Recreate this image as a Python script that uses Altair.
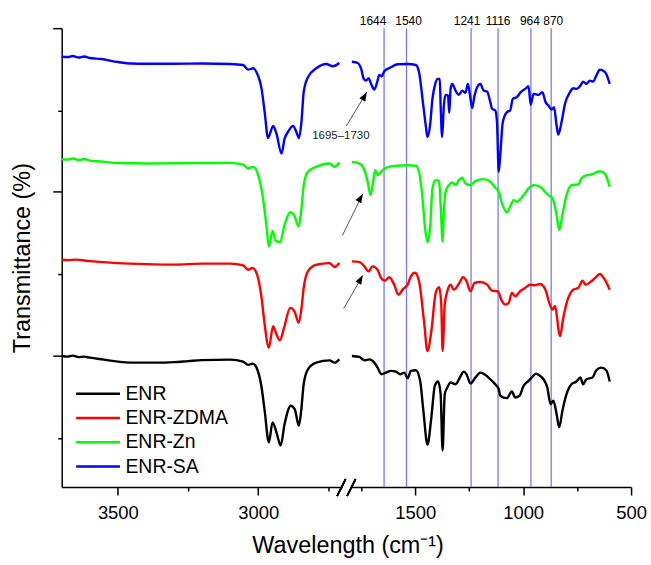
import altair as alt
import pandas as pd

FONT = "Liberation Sans"
SERIES = ["ENR", "ENR-ZDMA", "ENR-Zn", "ENR-SA"]
COLORS = ["#000000", "#ff0000", "#00ff00", "#0000ff"]

# ---------------- 3700-2700 cm-1 segment ----------------
enr_hi_wn = [3700, 3680, 3660, 3640, 3620, 3600, 3550, 3500, 3450, 3400, 3350, 3300, 3250, 3200, 3100,
             3054, 3036, 3020, 3006, 2988, 2977, 2962, 2949, 2935, 2920, 2906, 2884, 2870, 2855, 2847,
             2838, 2823, 2793, 2746, 2728, 2711]
enr_hi_t = [131.7, 131, 132, 130.5, 131, 130, 128, 126, 125, 125, 125, 125.5, 126.5, 127.5, 128,
            126, 122.7, 124, 120, 100, 76.7, 45, 65, 55, 41.7, 63.3, 81.7, 78.3, 61.7, 76.7,
            103.3, 118.3, 125, 127.3, 125, 128.3]

zdma_hi_wn = [3700, 3680, 3650, 3600, 3500, 3400, 3300, 3200, 3100, 3054, 3036, 3020, 3004, 2988, 2977,
              2962, 2947, 2935, 2923, 2908, 2886, 2870, 2856, 2847, 2838, 2823, 2793, 2746, 2728, 2711]
zdma_hi_t = [228.3, 228, 228.5, 227, 225, 224, 223.5, 224.5, 224.5, 222.7, 218.3, 220, 213.3, 190, 163.3,
             140, 161.7, 153.3, 147.3, 160, 180, 176, 165, 176.7, 200, 216.7, 223.3, 225, 221, 225]

zn_hi_wn = [3700, 3680, 3660, 3640, 3620, 3600, 3560, 3500, 3400, 3300, 3200, 3100, 3054, 3036, 3018,
            3000, 2983, 2971, 2962, 2949, 2938, 2923, 2906, 2886, 2870, 2856, 2847, 2838, 2823, 2793,
            2746, 2728, 2711]
zn_hi_t = [329.3, 329, 330, 328.5, 329.5, 328, 327, 325.5, 325, 325.3, 325.5, 325.7, 324, 320, 321.7,
           313.3, 290, 263.3, 241.7, 257.3, 247.3, 246, 263.3, 276, 271.7, 261.7, 276.7, 303.3, 316.7, 321.7,
           325, 321.7, 326]

sa_hi_wn = [3700, 3680, 3660, 3640, 3620, 3600, 3560, 3500, 3450, 3400, 3300, 3200, 3100, 3054, 3036,
            3018, 3006, 2988, 2977, 2965, 2947, 2935, 2917, 2906, 2894, 2876, 2864, 2855, 2846, 2838,
            2823, 2793, 2758, 2734, 2711]
sa_hi_t = [432.3, 432, 433, 431.5, 432.5, 431, 430, 427, 425.5, 425.3, 425.3, 425.5, 425, 424, 419.3,
           420.7, 416.7, 400, 376.7, 350.7, 362.7, 355, 335, 350, 356.7, 362.7, 356.7, 350.7, 366.7, 396.7,
           411.7, 420.7, 425, 422.7, 426]

# ---------------- 1800-500 cm-1 segment ----------------
enr_lo_wn = [1793, 1758, 1735, 1712, 1689, 1674, 1655, 1635, 1612, 1589, 1569, 1550, 1535, 1520, 1497,
             1477, 1462, 1443, 1425, 1409, 1394, 1382, 1373, 1363, 1351, 1336, 1313, 1293, 1275, 1262,
             1244, 1221, 1198, 1175, 1152, 1129, 1113, 1106, 1075, 1052, 1037, 1017, 998, 975, 960,
             940, 922, 906, 888, 873, 860, 845, 833, 818, 799, 776, 753, 735, 722, 707,
             679, 661, 638, 615, 599]
enr_lo_t = [131.7, 130.7, 127.3, 128.3, 125, 120, 113.3, 115, 116.7, 116, 113.3, 115, 109.3, 116.7, 117.3,
            106.7, 76.7, 42.7, 70, 101.7, 106, 93.3, 36.7, 93.3, 100, 105, 103.3, 110, 116, 113.3,
            104, 110, 115, 112.7, 108.3, 103.3, 98.3, 91.7, 89.3, 96, 90, 91.7, 101.7, 106.7, 110,
            114, 111.7, 108.3, 100, 83.3, 86.7, 73.3, 60, 76.7, 93.3, 103.3, 106, 110, 103.3, 108.3,
            110, 117.3, 120, 117.3, 106]

zdma_lo_wn = [1793, 1758, 1735, 1716, 1697, 1674, 1658, 1640, 1620, 1597, 1578, 1554, 1535, 1520, 1501,
              1482, 1459, 1443, 1425, 1405, 1389, 1379, 1373, 1363, 1351, 1336, 1321, 1298, 1278, 1262,
              1244, 1225, 1198, 1167, 1144, 1118, 1098, 1083, 1067, 1052, 1037, 1014, 991, 968, 945,
              922, 899, 876, 864, 853, 829, 814, 796, 768, 745, 725, 710, 684, 664, 645,
              622, 599]
zdma_lo_t = [226.7, 226, 221.7, 216.7, 221.7, 218.3, 210, 207.3, 210.7, 203.3, 193.3, 199.3, 203.3, 211.7, 215.3,
             206.7, 166.7, 136.7, 156.7, 195, 200.7, 183.3, 136.7, 183.3, 196.7, 203.3, 198.3, 204, 210.7, 206.7,
             196.7, 205, 206, 203.3, 197.3, 196.7, 186.7, 183.3, 185, 195, 191.7, 196.7, 200, 203.3, 202.7,
             204, 199.3, 183.3, 178.3, 181.7, 151.7, 170, 186.7, 198.3, 200, 207.3, 203.3, 206.7, 210.7, 214,
             208.3, 198.3]

zn_lo_wn = [1793, 1758, 1735, 1720, 1707, 1697, 1685, 1674, 1658, 1635, 1597, 1535, 1497, 1482, 1466,
            1454, 1443, 1431, 1420, 1405, 1389, 1382, 1373, 1367, 1359, 1344, 1328, 1313, 1298, 1282,
            1267, 1244, 1221, 1183, 1152, 1129, 1113, 1098, 1075, 1060, 1044, 1029, 998, 975, 952,
            922, 899, 883, 864, 845, 833, 818, 799, 776, 745, 730, 715, 684, 645, 622,
            599]
zn_lo_t = [326.7, 325, 318.3, 306.7, 293.3, 303.3, 318.3, 313.3, 316.7, 320.7, 322.7, 323.3, 322.7, 316.7, 290,
           260, 246, 260, 300, 308.3, 307.3, 283.3, 246.7, 276.7, 296.7, 303.3, 306, 303.3, 308.3, 310.7,
           305, 303.3, 307.3, 309.3, 306.7, 300.7, 296.7, 285, 276, 281.7, 288.3, 286.7, 293.3, 300, 303.3,
           301.7, 296.7, 293.3, 290, 273.3, 258.3, 273.3, 293.3, 303.3, 304, 310, 312.7, 314, 317.3, 315,
           301.7]

sa_lo_wn = [1793, 1766, 1750, 1738, 1727, 1716, 1704, 1689, 1676, 1666, 1655, 1643, 1612, 1581, 1535,
            1497, 1482, 1466, 1451, 1443, 1431, 1420, 1409, 1397, 1386, 1382, 1375, 1367, 1359, 1348,
            1342, 1336, 1328, 1313, 1298, 1282, 1267, 1256, 1247, 1236, 1225, 1213, 1198, 1183, 1167,
            1152, 1144, 1129, 1121, 1113, 1106, 1094, 1075, 1060, 1048, 1029, 1011, 990, 975, 965,
            952, 929, 911, 896, 883, 868, 857, 845, 837, 822, 806, 783, 768, 753, 735,
            722, 707, 691, 676, 661, 645, 630, 615, 599]
sa_lo_t = [427.3, 426, 420, 410, 408.3, 410.7, 405, 399.3, 406.7, 414, 412.7, 417.7, 421.7, 424.7, 425,
           424, 416.7, 390, 363.3, 351.7, 363.3, 390, 403.3, 410, 410, 383.3, 351.7, 383.3, 394, 393.3,
           376, 400, 405, 398.3, 394, 398.3, 396, 405, 395, 380.7, 393.3, 401.7, 405, 398.3, 397.3,
           386.7, 380, 378.3, 366.7, 316.7, 333.3, 366.7, 376.7, 378.3, 390, 391.7, 396.7, 400, 402.7, 384,
           395, 394, 396.7, 386.7, 383.3, 379.3, 381.7, 363.3, 354, 366.7, 385, 396.7, 400.7, 400, 403.3,
           407.3, 405, 408.3, 407.3, 413.3, 419.3, 418.3, 415, 405]

# marked bands
peak_wn = [1644, 1540, 1241, 1116, 964, 870]
# arrows to the 1695-1730 region (ENR-SA, ENR-Zn, ENR-ZDMA)
arrow_tail_wn = [1819, 1837, 1831]
arrow_tail_t = [362.7, 252.7, 179.3]
arrow_head_wn = [1724, 1742.5, 1742.5]
arrow_head_t = [396.7, 294.5, 212.7]
note_text = "1695\u20131730"
note_wn = [1844]
note_t = [352.3]

x_hi_ticks = [3500, 3250, 3000, 2750]
x_lo_ticks = [1750, 1500, 1250, 1000, 750, 500]
y_ticks = [49.3, 131.7, 214.0, 296.6, 378.3, 461.0]
y_major = [131.7, 296.6, 461.0]

# ---------------- build tables ----------------
def long_table(wn_lists, t_lists):
    rows = []
    for name, wns, ts in zip(SERIES, wn_lists, t_lists):
        for w, t in zip(wns, ts):
            rows.append({"series": name, "wn": w, "t": t})
    return pd.DataFrame(rows)

df_hi = long_table([enr_hi_wn, zdma_hi_wn, zn_hi_wn, sa_hi_wn], [enr_hi_t, zdma_hi_t, zn_hi_t, sa_hi_t])
df_lo = long_table([enr_lo_wn, zdma_lo_wn, zn_lo_wn, sa_lo_wn], [enr_lo_t, zdma_lo_t, zn_lo_t, sa_lo_t])
df_peaks = pd.DataFrame({"wn": peak_wn, "label": [str(w) for w in peak_wn]})
df_arrows = pd.DataFrame({"wn": arrow_tail_wn, "t": arrow_tail_t, "wn2": arrow_head_wn, "t2": arrow_head_t})
df_heads = pd.DataFrame({"wn": arrow_head_wn, "t": arrow_head_t})
df_note = pd.DataFrame({"wn": note_wn, "t": note_t, "label": [note_text]})

W, H = 282, 461
ys = alt.Scale(domain=[0, 461], nice=False, zero=False)
xs_hi = alt.Scale(domain=[3700, 2700], nice=False, zero=False)
xs_lo = alt.Scale(domain=[1800, 500], nice=False, zero=False)
cscale = alt.Scale(domain=SERIES, range=COLORS)

x_tick_size = {"condition": {"test": "datum.value % 500 == 0", "value": 8}, "value": 4}
y_tick_size = {"condition": {"test": "indexof(" + str(y_major) + ", datum.value) >= 0", "value": 9}, "value": 4}

ax_common = dict(domainColor="black", domainWidth=1.5, tickColor="black", tickWidth=1.5,
                 labelColor="black", labelFont=FONT, labelFontSize=18.5, grid=False,
                 labelFlush=False, labelOverlap=False, labelPadding=9, format="d",
                 labelExpr="datum.value % 500 == 0 ? datum.label : ''", tickSize=x_tick_size)

ax_hi = alt.Axis(values=x_hi_ticks, title=None, **ax_common)
ax_lo = alt.Axis(values=x_lo_ticks, title="Wavelength (cm\u207b\u00b9)", titleX=-2.8, titleY=66,
                 titleAlign="center", titleBaseline="alphabetic", titleFont=FONT, titleFontSize=23.5,
                 titleFontWeight="normal", titleColor="black", **ax_common)
ay = alt.Axis(values=y_ticks, labels=False, tickSize=y_tick_size, title="Transmittance (%)",
              titleFont=FONT, titleFontSize=23.5, titleFontWeight="normal", titleColor="black",
              titlePadding=18, domainColor="black", domainWidth=1.5, tickColor="black",
              tickWidth=1.5, grid=False)

def xlo(field="wn"):
    return alt.X(field, type="quantitative", scale=xs_lo, axis=ax_lo)

def ylo(field="t"):
    return alt.Y(field, type="quantitative", scale=ys, axis=None)

# ---------------- left panel ----------------
left = alt.Chart(df_hi).mark_line(strokeWidth=2.4, interpolate="monotone").encode(
    x=alt.X("wn:Q", scale=xs_hi, axis=ax_hi),
    y=alt.Y("t:Q", scale=ys, axis=ay),
    color=alt.Color("series:N", scale=cscale, legend=alt.Legend(
        orient="none", legendX=13, legendY=357.2, title=None, symbolType="stroke",
        symbolSize=1936, symbolStrokeWidth=2.5, clipHeight=20, rowPadding=4.4,
        labelOffset=4, labelFontSize=19.5, labelFont=FONT, labelColor="black",
        padding=0, labelLimit=400)),
).properties(width=W, height=H)

# ---------------- right panel ----------------
vlines = alt.Chart(df_peaks).mark_rule(color="#7878ff", strokeWidth=1.3).encode(x=xlo())

spectra_lo = alt.Chart(df_lo).mark_line(strokeWidth=2.4, interpolate="monotone").encode(
    x=xlo(), y=ylo(),
    color=alt.Color("series:N", scale=cscale, legend=None),
)

label_dx = {1644: -11, 1540: 2, 1241: -4, 1116: 0, 964: -1, 870: 2}
label_layers = []
for w in peak_wn:
    label_layers.append(
        alt.Chart(df_peaks).transform_filter(alt.datum.wn == w).mark_text(
            font=FONT, fontSize=12, color="black", baseline="alphabetic", align="center", dx=label_dx[w]
        ).encode(x=xlo(), y=alt.value(-3), text="label:N")
    )

arrows = alt.Chart(df_arrows).mark_rule(color="#404040", strokeWidth=0.9).encode(
    x=xlo(), y=ylo(), x2="wn2", y2="t2")
heads = alt.Chart(df_heads).mark_point(
    shape="M0,0L0.38,1L-0.38,1Z", filled=True, color="black", opacity=1, size=324, angle=30, strokeWidth=0
).encode(x=xlo(), y=ylo())
note = alt.Chart(df_note).mark_text(font=FONT, fontSize=11.5, color="#222222", baseline="middle",
                                    align="center").encode(x=xlo(), y=ylo(), text="label:N")

brk1 = alt.Chart(df_peaks).mark_rule(color="black", strokeWidth=1.5).encode(
    x=alt.value(-13.3), x2=alt.value(-4.8), y=alt.value(470), y2=alt.value(453))
brk2 = alt.Chart(df_peaks).mark_rule(color="black", strokeWidth=1.5).encode(
    x=alt.value(-3.3), x2=alt.value(5.2), y=alt.value(470), y2=alt.value(453))

right = alt.layer(vlines, spectra_lo, *label_layers, arrows, heads, note, brk1, brk2).properties(
    width=W, height=H)

chart = alt.hconcat(left, right, spacing=8, bounds="flush").resolve_legend(
    color="independent"
).properties(
    padding={"left": 10, "top": 14, "right": 4, "bottom": 4}
).configure_view(stroke=None)

chart.save("out.html", embed_options={"renderer": "svg", "actions": False})
